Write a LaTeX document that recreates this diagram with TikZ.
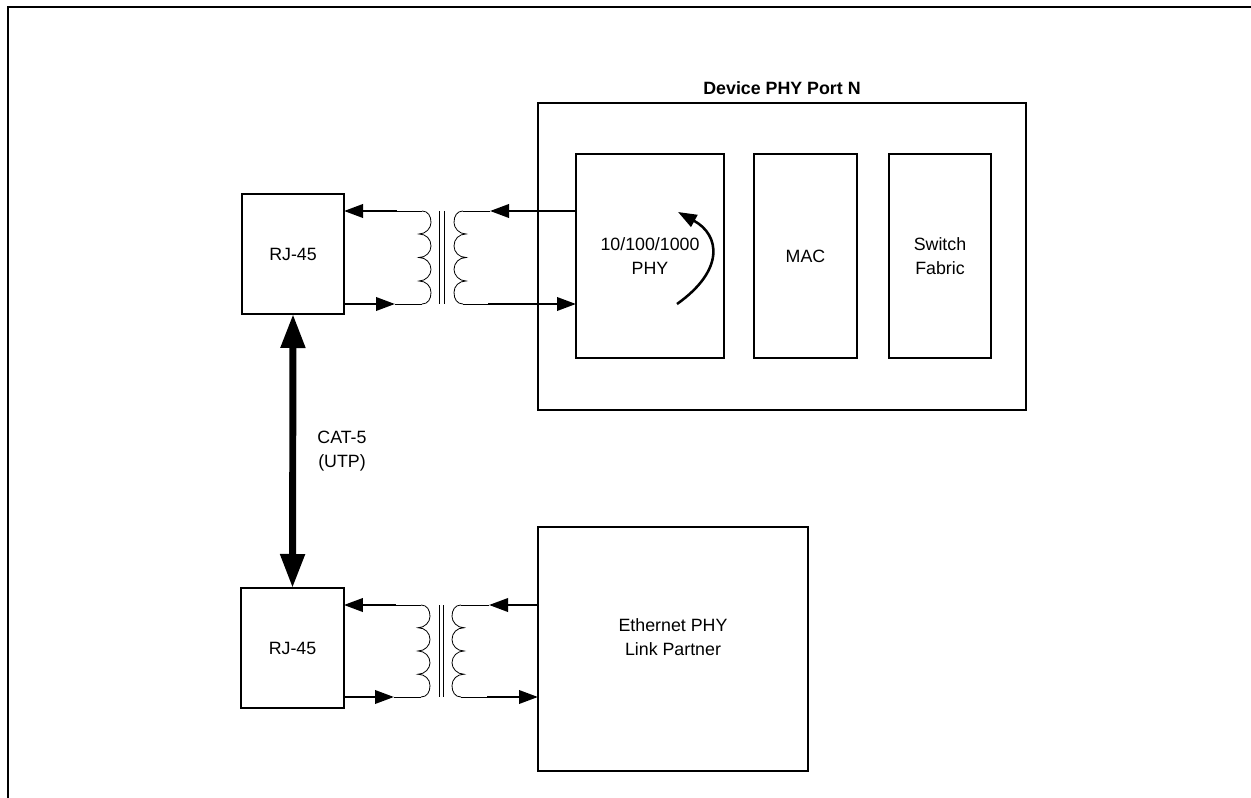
\documentclass[tikz,border=0pt]{standalone}
\usepackage{fontspec}
\setmainfont{Liberation Sans}
\usetikzlibrary{arrows.meta}
\tikzset{
  px/.style={x=0.75pt,y=-0.75pt},
  blk/.style={draw=black,line width=1.9pt,inner sep=0pt,outer sep=0pt,align=center,
    font=\fontsize{13.35}{18}\selectfont},
  lbl/.style={inner sep=0pt,align=center,font=\fontsize{13.35}{18}\selectfont},
  sig/.style={line width=1.9pt,-{Triangle[length=14.25pt,width=10pt]}},
  wire/.style={line width=0.6pt},
  cable/.style={line width=5.2pt,{Triangle[length=25.5pt,width=17.5pt]}-{Triangle[length=25.5pt,width=17.5pt]}},
  loopback/.style={line width=1.9pt,-{Triangle[length=14pt,width=10pt]}},
  coil/.pic={
    \draw[wire] (0,0) .. controls (6,0) and (9,5) .. (9,11.5)
      .. controls (9,17) and (4,23) .. (-3,23)
      .. controls (4,23) and (9,28) .. (9,35)
      .. controls (9,41) and (4,46.5) .. (-3,46.5)
      .. controls (4,46.5) and (9,52) .. (9,58.5)
      .. controls (9,64) and (4,70) .. (-3,70)
      .. controls (4,70) and (9,75) .. (9,81.5)
      .. controls (9,88) and (6,93) .. (0,93);
  }
}
\begin{document}
\begin{tikzpicture}[px]
\useasboundingbox (0,0) rectangle (1251,798);
\fill[white] (0,0) rectangle (1251,798);
% page frame
\coordinate (frameTR) at (1251,7);
\coordinate (frameTL) at (8,7);
\coordinate (frameBL) at (8,798);
\draw[line width=1.9pt] (frameBL) -- (frameTL) -- (frameTR);

% blocks
\node[blk,minimum width=76.5pt,minimum height=90pt] (rjA) at (293,254) {RJ-45};
\node[blk,minimum width=77pt,minimum height=90pt] (rjB) at (292.5,648) {RJ-45};
\node[blk,minimum width=366pt,minimum height=230.25pt] (device) at (782,256.5) {};
\node[lbl,font=\fontsize{13.35}{18}\selectfont\bfseries] (devlabel) at (782,88) {Device PHY Port N};
\node[blk,minimum width=111pt,minimum height=153pt] (phy) at (650,256) {10/100/1000\\PHY};
\node[blk,minimum width=77.25pt,minimum height=153pt] (mac) at (805.5,256) {MAC};
\node[blk,minimum width=76.5pt,minimum height=153pt] (fabric) at (940,256) {Switch\\Fabric};
\node[blk,minimum width=202.5pt,minimum height=183pt] (partner) at (673,649) {};
\node[lbl] (partnerlabel) at (673,637) {Ethernet PHY\\Link Partner};
\node[lbl] (catlabel) at (342,451) {CAT-5\\(UTP)};

% cable
\draw[cable] (rjA.south) -- (rjB.north);

% upper transformer
\pic at (422,211) {coil};
\pic[xscale=-1] at (463,211) {coil};
\coordinate (a1) at (397,211);
\coordinate (a2) at (422,211);
\coordinate (a3) at (395,304);
\coordinate (a4) at (422,304);
\coordinate (a5) at (490,211);
\coordinate (a6) at (463,211);
\coordinate (a7) at (488,304);
\coordinate (a8) at (463,304);
\coordinate (c1t) at (439,211);
\coordinate (c1b) at (439,304);
\coordinate (c2t) at (444,211);
\coordinate (c2b) at (444,304);
\draw[wire] (c1t) -- (c1b);
\draw[wire] (c2t) -- (c2b);
\draw[wire] (a1) -- (a2);
\draw[wire] (a3) -- (a4);
\draw[wire] (a5) -- (a6);
\draw[wire] (a7) -- (a8);
\draw[sig] (a1) -- (a1 -| rjA.east);
\draw[sig] (a3 -| rjA.east) -- (a3);
\draw[sig] (a5 -| phy.west) -- (a5);
\draw[sig] (a7) -- (a7 -| phy.west);

% lower transformer
\pic[yscale=0.989] at (421,605) {coil};
\pic[xscale=-1,yscale=0.989] at (461,605) {coil};
\coordinate (b1) at (396,605);
\coordinate (b2) at (421,605);
\coordinate (b3) at (394,697);
\coordinate (b4) at (421,697);
\coordinate (b5) at (489,605);
\coordinate (b6) at (461,605);
\coordinate (b7) at (487,697);
\coordinate (b8) at (461,697);
\coordinate (d1t) at (439,605);
\coordinate (d1b) at (439,697);
\coordinate (d2t) at (443,605);
\coordinate (d2b) at (443,697);
\draw[wire] (d1t) -- (d1b);
\draw[wire] (d2t) -- (d2b);
\draw[wire] (b1) -- (b2);
\draw[wire] (b3) -- (b4);
\draw[wire] (b5) -- (b6);
\draw[wire] (b7) -- (b8);
\draw[sig] (b1) -- (b1 -| rjB.east);
\draw[sig] (b3 -| rjB.east) -- (b3);
\draw[sig] (b5 -| partner.west) -- (b5);
\draw[sig] (b7) -- (b7 -| partner.west);

% loopback arrow
\coordinate (loopS) at (677,304);
\coordinate (loopE) at (678,212);
\draw[loopback] (loopS) .. controls (725,270) and (720,235) .. (loopE);
\end{tikzpicture}
\end{document}
